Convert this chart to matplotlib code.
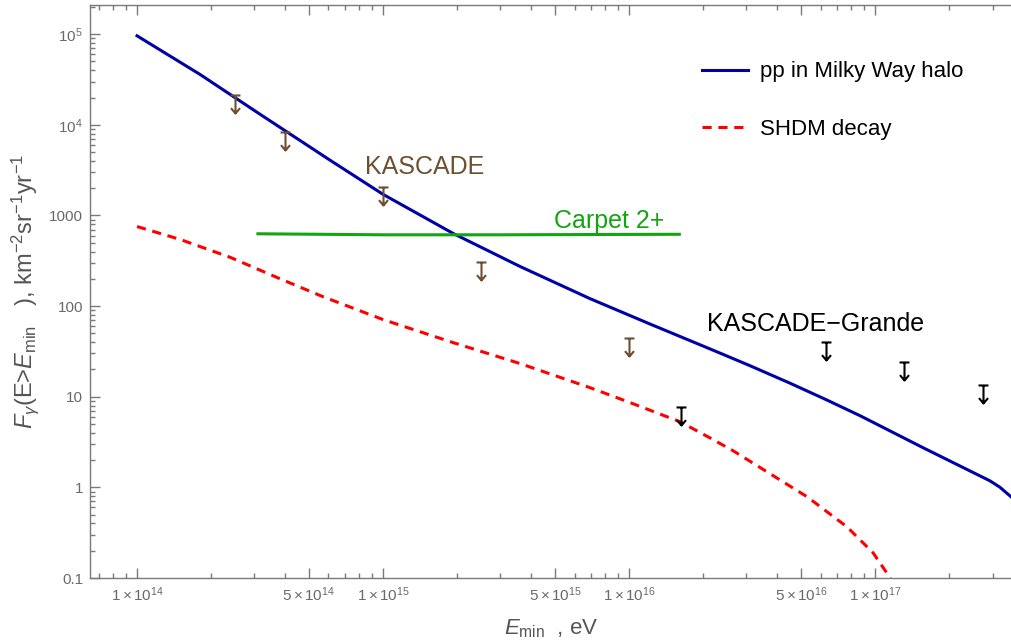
import matplotlib
matplotlib.use("Agg")
import matplotlib.pyplot as plt
import numpy as np
from matplotlib.path import Path
from matplotlib.ticker import FixedLocator, FixedFormatter, NullFormatter

plt.rcParams['font.family'] = ['Liberation Sans', 'DejaVu Sans']
plt.rcParams['mathtext.fontset'] = 'custom'
plt.rcParams['mathtext.rm'] = 'Liberation Sans'
plt.rcParams['mathtext.it'] = 'Liberation Sans:italic'
plt.rcParams['mathtext.bf'] = 'Liberation Sans:bold'

# pp in Milky Way halo
pp_E = [1e14, 1.8e14, 3.16e14, 6.1e14, 1e15, 1.93e15, 3.61e15, 6.93e15,
        1.22e16, 2.19e16, 3.1e16, 4.51e16, 6.27e16, 8.69e16, 1.57e17,
        2.93e17, 3.22e17, 3.6e17]
pp_F = [9.6e4, 3.61e4, 1.31e4, 4.06e3, 1.71e3, 632, 273, 121,
        63.2, 32.7, 22.0, 14.1, 9.38, 6.17, 2.73,
        1.18, 1.0, 0.77]

# SHDM decay
shdm_E = [1e14, 1.5e14, 2.4e14, 3.8e14, 5.7e14, 1e15, 1.93e15, 3.61e15, 6.93e15,
          1e16, 1.61e16, 2.13e16, 2.65e16, 3.64e16, 5.3e16, 7.69e16, 9.82e16,
          1.13e17, 1.23e17]
shdm_F = [755, 543, 344, 201, 127, 71, 39.5, 23.2, 12.6,
          8.7, 5.3, 3.52, 2.53, 1.48, 0.785, 0.366, 0.189,
          0.108, 0.0736]

# Carpet 2+
carpet_E = [3.1e14, 1e15, 3e15, 1e16, 1.6e16]
carpet_F = [628, 612, 612, 618, 620]

# upper limits
kascade_E = [2.5e14, 4e14, 1e15, 2.5e15, 1e16]
kascade_F = [1.7e4, 6.7e3, 1.62e3, 247, 35.7]
kg_E = [1.63e16, 6.3e16, 1.31e17, 2.75e17]
kg_F = [6.2, 32, 19.4, 10.8]

x_major = [1e14, 5e14, 1e15, 5e15, 1e16, 5e16, 1e17]
x_major_labels = [r'$1\times10^{14}$', r'$5\times10^{14}$', r'$1\times10^{15}$',
                  r'$5\times10^{15}$', r'$1\times10^{16}$', r'$5\times10^{16}$',
                  r'$1\times10^{17}$']
y_major = [0.1, 1, 10, 100, 1000, 1e4, 1e5]
y_major_labels = ['0.1', '1', '10', '100', '1000', r'$10^4$', r'$10^5$']

gray = '#7a7a7a'
label_gray = '#555555'
blue = '#0000a8'
red = '#ff0000'
green = '#12a512'
brown = '#6e5030'

W, H = 1012, 644
fig = plt.figure(figsize=(W / 100, H / 100), dpi=100)
ax = fig.add_axes([90 / W, 66 / H, 922 / W, 573 / H])

ax.set_xscale('log')
ax.set_yscale('log')
ax.set_xlim(6.44e13, 3.6e17)
ax.set_ylim(0.1, 2.1e5)

ax.plot(pp_E, pp_F, color=blue, lw=2.2, label='pp in Milky Way halo')
ax.plot(shdm_E, shdm_F, color=red, lw=2.2, ls=(0, (3, 2.2)), label='SHDM decay')
ax.plot(carpet_E, carpet_F, color=green, lw=2.2)

# upper-limit marker: bar with arrow pointing down
arrow = Path([(-0.55, 1), (0.55, 1), (0, 1), (0, -1), (-0.5, -0.4), (0, -1), (0.5, -0.4)],
             [Path.MOVETO, Path.LINETO, Path.MOVETO, Path.LINETO,
              Path.MOVETO, Path.LINETO, Path.LINETO])
ax.plot(kascade_E, kascade_F, ls='none', marker=arrow, ms=13, mew=1.5,
        color=brown, fillstyle='none')
ax.plot(kg_E, kg_F, ls='none', marker=arrow, ms=13, mew=1.5,
        color='black', fillstyle='none')

ax.text(1.48e15, 3.45e3, 'KASCADE', color=brown, fontsize=18, ha='center', va='center')
ax.text(8.3e15, 870, 'Carpet 2+', color=green, fontsize=18, ha='center', va='center')
ax.text(5.7e16, 64, 'KASCADE\u2212Grande', color='black', fontsize=18, ha='center', va='center')

# ticks
x_minor = [m * 10.0 ** d for d in range(13, 18) for m in range(2, 10)
           if not (m == 5 and d >= 14)]
y_minor = [m * 10.0 ** d for d in range(-1, 6) for m in range(2, 10)]
ax.xaxis.set_major_locator(FixedLocator(x_major))
ax.xaxis.set_major_formatter(FixedFormatter(x_major_labels))
ax.xaxis.set_minor_locator(FixedLocator(x_minor))
ax.xaxis.set_minor_formatter(NullFormatter())
ax.yaxis.set_major_locator(FixedLocator(y_major))
ax.yaxis.set_major_formatter(FixedFormatter(y_major_labels))
ax.yaxis.set_minor_locator(FixedLocator(y_minor))
ax.yaxis.set_minor_formatter(NullFormatter())

ax.tick_params(which='both', direction='in', top=True, right=False,
               color=gray, width=1.0, labelcolor='#6a6a6a', labelsize=11)
ax.tick_params(which='major', length=7, pad=5)
ax.tick_params(which='minor', length=3.5)
for side in ['left', 'bottom', 'top']:
    ax.spines[side].set_color(gray)
    ax.spines[side].set_linewidth(1.0)
ax.spines['right'].set_visible(False)

ax.set_xlabel(r'$E_{\rm min}$  , eV', fontsize=16, color=label_gray, labelpad=10)
ax.set_ylabel(r'$F_\gamma$(E>$E_{\rm min}$   ), km$^{-2}$sr$^{-1}$yr$^{-1}$',
              fontsize=17, color=label_gray, labelpad=6)

ax.legend(loc='upper left', bbox_to_anchor=(0.664, 0.9015), frameon=False,
          fontsize=16, handlelength=2.05, handletextpad=0.55, labelspacing=1.63,
          borderpad=0, borderaxespad=0)

fig.savefig('out.png', dpi=100)
